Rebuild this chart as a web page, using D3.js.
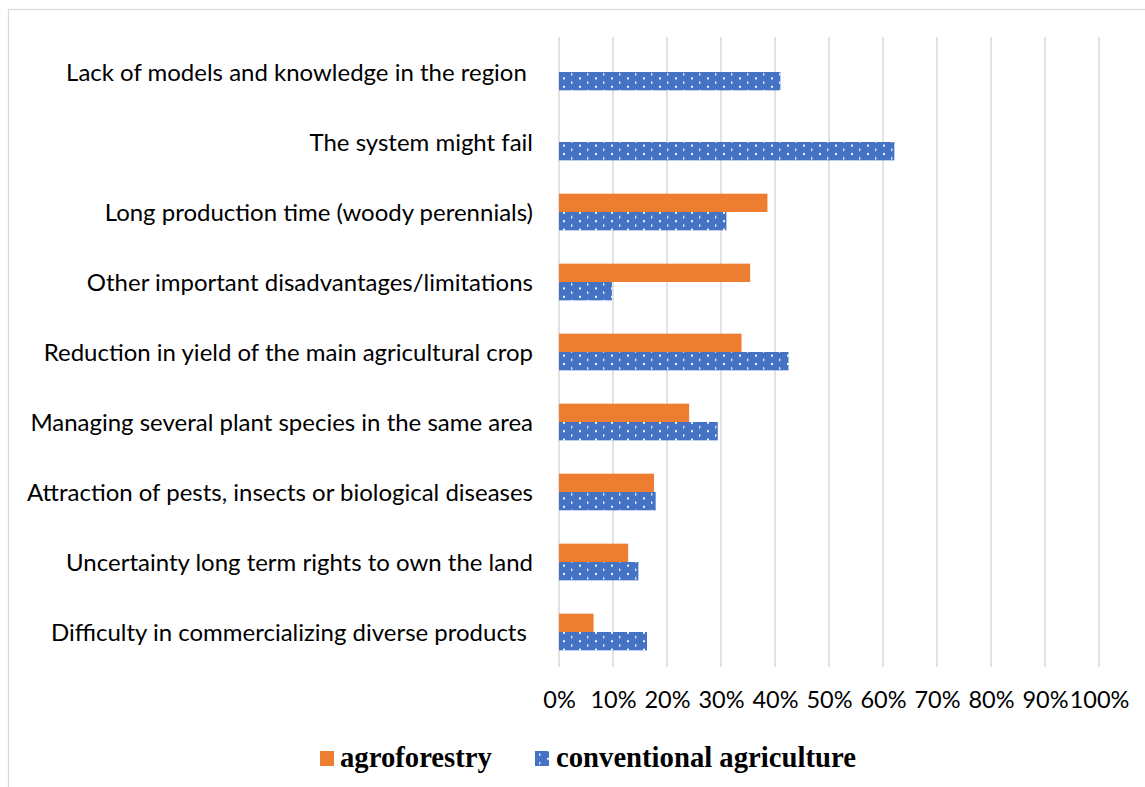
<!DOCTYPE html>
<html>
<head>
<meta charset="utf-8">
<script src="https://cdn.jsdelivr.net/npm/d3@7"></script>
<style>
  html, body { margin: 0; padding: 0; background: #ffffff; }
  svg { display: block; }
  .cat { white-space: pre; }
</style>
</head>
<body>
<div id="chart"></div>
<script>
// Perceived disadvantages / limitations, share of respondents (%)
const categories = [
  "Lack of models and knowledge in the region ",
  "The system might fail",
  "Long production time (woody perennials)",
  "Other important disadvantages/limitations",
  "Reduction in yield of the main agricultural crop",
  "Managing several plant species in the same area",
  "Attraction of pests, insects or biological diseases",
  "Uncertainty long term rights to own the land",
  "Difficulty in commercializing diverse products "
];
const agroforestry = [null, null, 38.6, 35.4, 33.8, 24.1, 17.6, 12.8, 6.4];
const conventional = [41.0, 62.1, 31.0, 9.8, 42.5, 29.4, 17.9, 14.7, 16.3];
const seriesNames = ["agroforestry", "conventional agriculture"];
const tickValues = [0, 10, 20, 30, 40, 50, 60, 70, 80, 90, 100];

const W = 1145, H = 787;
const orange = "#ED7D31", blue = "#4472C4";
const sansFont = "Lato, 'Open Sans', sans-serif";
const serifFont = "'Liberation Serif', 'Times New Roman', serif";

const svg = d3.select("#chart").append("svg")
  .attr("width", W).attr("height", H);

// dotted fill used for the conventional agriculture series
const defs = svg.append("defs");
const pat = defs.append("pattern")
  .attr("id", "dots")
  .attr("patternUnits", "userSpaceOnUse")
  .attr("width", 16).attr("height", 8.4);
pat.append("rect").attr("width", 16).attr("height", 8.4).attr("fill", blue);
pat.append("rect").attr("x", 3).attr("y", 1.8).attr("width", 2).attr("height", 2)
  .attr("fill", "#ffffff").attr("opacity", 0.95);
pat.append("rect").attr("x", 11).attr("y", 6).attr("width", 1.4).attr("height", 2.2)
  .attr("fill", "#ffffff").attr("opacity", 0.95);

// chart frame
svg.append("rect")
  .attr("x", 8.5).attr("y", 9.5)
  .attr("width", W + 20).attr("height", H + 20)
  .attr("fill", "none").attr("stroke", "#d9d9d9").attr("stroke-width", 1.2);

const plot = { left: 559, right: 1099, top: 37, bottom: 667 };

const x = d3.scaleLinear().domain([0, 100]).range([plot.left, plot.right]);
const y = d3.scaleBand().domain(categories)
  .range([plot.top, plot.bottom])
  .paddingInner(0.476).paddingOuter(0.238);
const ys = d3.scaleBand().domain(seriesNames).range([0, y.bandwidth()]);

// vertical gridlines
svg.append("g")
  .selectAll("line")
  .data(tickValues)
  .join("line")
  .attr("x1", d => x(d)).attr("x2", d => x(d))
  .attr("y1", plot.top).attr("y2", plot.bottom)
  .attr("stroke", "#d9d9d9").attr("stroke-width", 1.5);

// bars
const rows = categories.map((c, i) => ({ cat: c, values: [agroforestry[i], conventional[i]] }));
const barG = svg.append("g");
rows.forEach(r => {
  r.values.forEach((v, j) => {
    if (v == null) return;
    barG.append("rect")
      .attr("x", x(0))
      .attr("y", y(r.cat) + ys(seriesNames[j]))
      .attr("width", x(v) - x(0))
      .attr("height", ys.bandwidth())
      .attr("fill", j === 0 ? orange : "url(#dots)");
  });
});

// size the sans text so the longest label spans ~461px
const probe = svg.append("text")
  .attr("font-family", sansFont).attr("font-size", 20)
  .text("Lack of models and knowledge in the region");
const sansSize = 20 * 461 / probe.node().getComputedTextLength();
probe.remove();

// category labels
svg.append("g").selectAll("text")
  .data(categories)
  .join("text")
  .attr("class", "cat")
  .attr("x", 533)
  .attr("y", d => y(d) + y.bandwidth() / 2 + 8.5)
  .attr("text-anchor", "end")
  .attr("font-family", sansFont)
  .attr("font-size", sansSize)
  .attr("fill", "#000000")
  .text(d => d);

// x axis tick labels
const xAxis = d3.axisBottom(x).tickValues(tickValues).tickFormat(d => d + "%").tickSize(0);
const axG = svg.append("g")
  .attr("transform", `translate(0,${plot.bottom})`)
  .call(xAxis);
axG.select(".domain").remove();
axG.selectAll("text")
  .attr("y", 41).attr("dy", 0)
  .attr("font-family", sansFont)
  .attr("font-size", sansSize * 0.98)
  .attr("fill", "#000000");

// legend
const legend = svg.append("g");
const legendItems = [
  { name: seriesNames[0], fill: orange, sx: 320, tx: 340 },
  { name: seriesNames[1], fill: "url(#dots)", sx: 535, tx: 556 }
];
legendItems.forEach(it => {
  legend.append("rect")
    .attr("x", it.sx).attr("y", 751)
    .attr("width", 14).attr("height", 15)
    .attr("fill", it.fill);
  legend.append("text")
    .attr("x", it.tx).attr("y", 767)
    .attr("font-family", serifFont)
    .attr("font-weight", "bold")
    .attr("font-size", 28.7)
    .attr("fill", "#000000")
    .text(it.name);
});
</script>
</body>
</html>
